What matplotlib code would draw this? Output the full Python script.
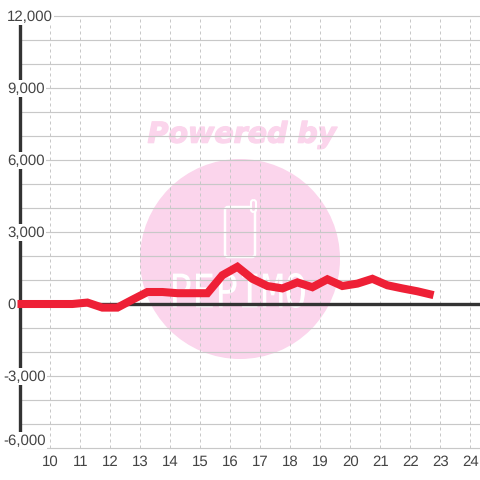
import matplotlib
matplotlib.use("Agg")
import matplotlib.pyplot as plt
import matplotlib.patheffects as pe
from matplotlib.font_manager import FontProperties
from matplotlib.patches import Circle, FancyBboxPatch, PathPatch
from matplotlib.textpath import TextPath
from matplotlib.transforms import Affine2D

hours = [8.9, 9.23, 9.73, 10.23, 10.73, 11.23, 11.73, 12.23, 12.73, 13.23, 13.73, 14.23, 14.73, 15.23,
         15.73, 16.23, 16.73, 17.23, 17.73, 18.23, 18.73, 19.23, 19.73, 20.23, 20.73, 21.23, 21.73, 22.23, 22.77]
values = [0, 0, 0, 0, 0, 60, -150, -150, 180, 500, 500, 450, 450, 450,
          1200, 1550, 1050, 750, 650, 900, 700, 1030, 750, 850, 1050, 780, 650, 530, 370]

x_ticks = list(range(10, 25))
y_major = [12000, 9000, 6000, 3000, 0, -3000, -6000]
y_minor = [11000, 10000, 8000, 7000, 5000, 4000, 2000, 1000, -1000, -2000, -4000, -5000]

INK = "#333333"
LABEL = "#444444"
GRID = "#c8c8c8"
PINK = "#fbd5ec"
RED = "#ee2036"

plt.rcParams["font.family"] = ["Liberation Sans", "DejaVu Sans"]
plt.rcParams["text.hinting"] = "no_hinting"

fig = plt.figure(figsize=(4.8, 4.8), dpi=100)
ax = fig.add_axes([0, 0, 1, 1])
ax.set_xlim(8.317, 24.317)
ax.set_ylim(-7333, 12667)
ax.axis("off")


def to_axes(px, py):
    return px / 480, 1 - py / 480


def rounded(left, top, w, h, r, fc, lw):
    return FancyBboxPatch(to_axes(left, top + h), w / 480, h / 480,
                          boxstyle=f"round,pad=0,rounding_size={r / 480}",
                          transform=ax.transAxes, fc=fc, ec="white", lw=lw, zorder=1.5)


# watermark, sits under the grid
ax.add_patch(Circle(to_axes(240, 259), 100 / 480, transform=ax.transAxes, fc=PINK, ec="none", zorder=1))
ax.text(*to_axes(242, 135), "Powered by", transform=ax.transAxes, ha="center", va="center",
        family="DejaVu Sans", weight="bold", style="italic", fontsize=20.5, color=PINK, zorder=1,
        path_effects=[pe.withStroke(linewidth=1.0, foreground=PINK)])
ax.add_patch(rounded(225, 207, 30, 50, 3, "none", 1.8))
ax.add_patch(rounded(251, 200, 5, 12, 2.5, PINK, 1.5))
ax.add_patch(rounded(226, 208, 28, 48, 2, "none", 0))

# logo word squeezed into its box
word = TextPath((0, 0), "PEPIMO", size=1, prop=FontProperties(family="DejaVu Sans Mono"))
bb = word.get_extents()
sx, sy = (132 / 480) / bb.width, (35 / 480) / bb.height
logo_tf = Affine2D().translate(-bb.x0, -bb.y0).scale(sx, sy).translate(*to_axes(173, 308))
ax.add_patch(PathPatch(word, transform=logo_tf + ax.transAxes, fc="white", ec="none", zorder=1.5))

for v in y_major + y_minor:
    ax.plot([8.95, 24.317], [v, v], color=GRID, lw=0.85, zorder=2, solid_capstyle="butt")
for x in x_ticks:
    ax.plot([x, x], [-6000, 12000], color=GRID, lw=0.72, ls=(0, (3, 3)), zorder=2)

ax.plot([9, 24.317], [0, 0], color=INK, lw=2.4, zorder=3, solid_capstyle="butt")
ax.plot([9, 9], [-6000, 12000], color=INK, lw=2.4, zorder=3, solid_capstyle="butt")

ax.plot(hours, values, color=RED, lw=5.8, zorder=4, solid_capstyle="butt", solid_joinstyle="miter")

# y labels have a white box that cuts the axis and the grid
for v in y_major:
    text = f"{v:,}"
    px = 3 if v < 0 else 7
    yv = -5700 if v == -6000 else v - 30
    ax.text(8.317 + px / 30, yv, text, ha="left", va="center", fontsize=10.8, color=LABEL, zorder=3.5,
            bbox=dict(fc="white", ec="none", pad=1.0))

for x in x_ticks:
    ax.text(x, -6570, str(x), ha="center", va="center", fontsize=10.8, color=LABEL, zorder=5)

fig.savefig("out.png", dpi=100)
